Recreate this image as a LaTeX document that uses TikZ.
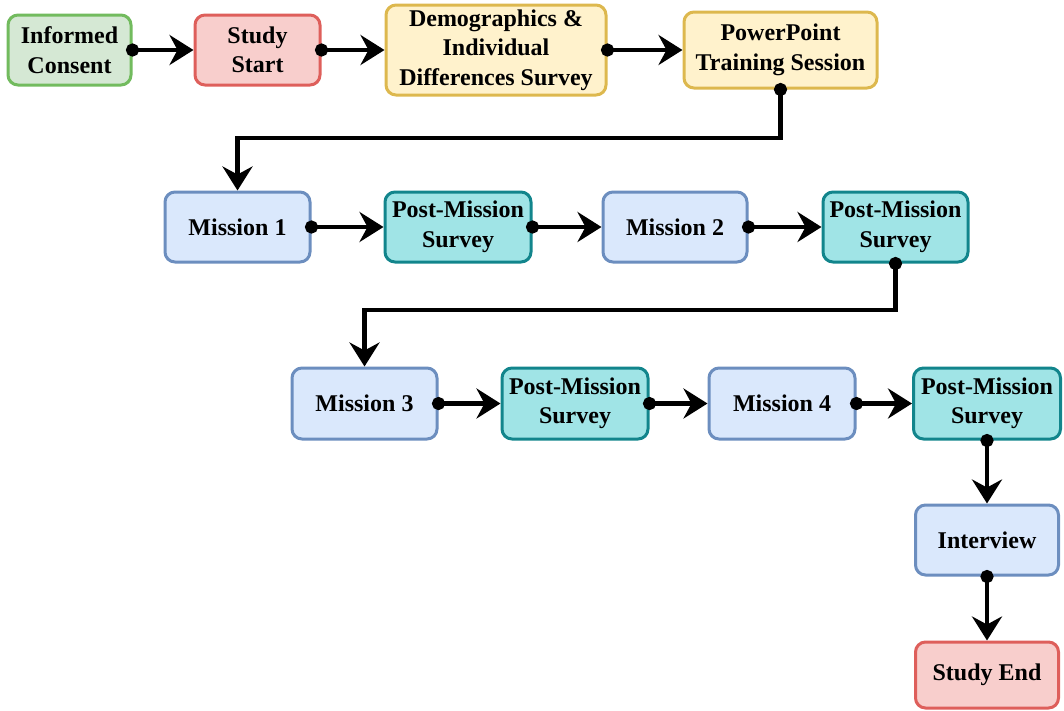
\documentclass[tikz,border=0pt]{standalone}
\usepackage{fontspec}
\setmainfont{Liberation Serif}
\usetikzlibrary{arrows.meta}
\definecolor{gfill}{HTML}{D5E8D4}\definecolor{gdraw}{HTML}{72BB5E}
\definecolor{rfill}{HTML}{F8CECC}\definecolor{rdraw}{HTML}{DE5F5B}
\definecolor{yfill}{HTML}{FFF2CC}\definecolor{ydraw}{HTML}{DDB84E}
\definecolor{bfill}{HTML}{DAE8FC}\definecolor{bdraw}{HTML}{6C8EBF}
\definecolor{tfill}{HTML}{A0E4E6}\definecolor{tdraw}{HTML}{12858C}
\tikzset{
  box/.style={rectangle, rounded corners=10pt, line width=3pt, align=center,
    inner sep=0pt, font=\fontsize{24}{29.5}\selectfont\bfseries, text=black},
  gbox/.style={box, fill=gfill, draw=gdraw},
  rbox/.style={box, fill=rfill, draw=rdraw},
  ybox/.style={box, fill=yfill, draw=ydraw},
  bbox/.style={box, fill=bfill, draw=bdraw},
  tbox/.style={box, fill=tfill, draw=tdraw},
  conn/.style={line width=4.5pt, draw=black, shorten <=-6.5pt,
    {Circle[length=13pt]}-{Stealth[length=24pt,width=30pt,inset=8pt]}},
}
\begin{document}
\begin{tikzpicture}[x=1pt,y=-1pt]
\useasboundingbox (0,0) rectangle (1064,710);
\node[gbox, minimum width=123pt, minimum height=70pt] (ic) at (69.5,50) {Informed\\Consent};
\node[rbox, minimum width=125pt, minimum height=70pt] (ss) at (257.5,50) {Study\\Start};
\node[ybox, minimum width=220pt, minimum height=90pt] (dm) at (496,50) {Demographics \&\\Individual\\Differences Survey};
\node[ybox, minimum width=193pt, minimum height=76pt] (pp) at (780.5,50) {PowerPoint\\Training Session};

\node[bbox, minimum width=145pt, minimum height=70pt] (m1) at (237.5,227) {Mission 1};
\node[tbox, minimum width=146pt, minimum height=70pt] (p1) at (458,227) {Post-Mission\\Survey};
\node[bbox, minimum width=144pt, minimum height=70pt] (m2) at (675,227) {Mission 2};
\node[tbox, minimum width=145pt, minimum height=70pt] (p2) at (895.5,227) {Post-Mission\\Survey};

\node[bbox, minimum width=145pt, minimum height=71pt] (m3) at (364.5,403.5) {Mission 3};
\node[tbox, minimum width=146pt, minimum height=71pt] (p3) at (575,403.5) {Post-Mission\\Survey};
\node[bbox, minimum width=146pt, minimum height=71pt] (m4) at (782,403.5) {Mission 4};
\node[tbox, minimum width=147pt, minimum height=71pt] (p4) at (987,403.5) {Post-Mission\\Survey};

\node[bbox, minimum width=143pt, minimum height=70pt] (iv) at (987,540) {Interview};
\node[rbox, minimum width=143pt, minimum height=66pt] (se) at (987,675) {Study End};

\coordinate (c1) at (780.5,138);
\coordinate (c2) at (237.5,138);
\coordinate (c3) at (895.5,310);
\coordinate (c4) at (364.5,310);

\draw[conn] (ic.east) -- (ss.west);
\draw[conn] (ss.east) -- (dm.west);
\draw[conn] (dm.east) -- (pp.west);
\draw[conn] (pp.south) -- (c1) -- (c2) -- (m1.north);
\draw[conn] (m1.east) -- (p1.west);
\draw[conn] (p1.east) -- (m2.west);
\draw[conn] (m2.east) -- (p2.west);
\draw[conn] (p2.south) -- (c3) -- (c4) -- (m3.north);
\draw[conn] (m3.east) -- (p3.west);
\draw[conn] (p3.east) -- (m4.west);
\draw[conn] (m4.east) -- (p4.west);
\draw[conn] (p4.south) -- (iv.north);
\draw[conn] (iv.south) -- (se.north);
\end{tikzpicture}
\end{document}
